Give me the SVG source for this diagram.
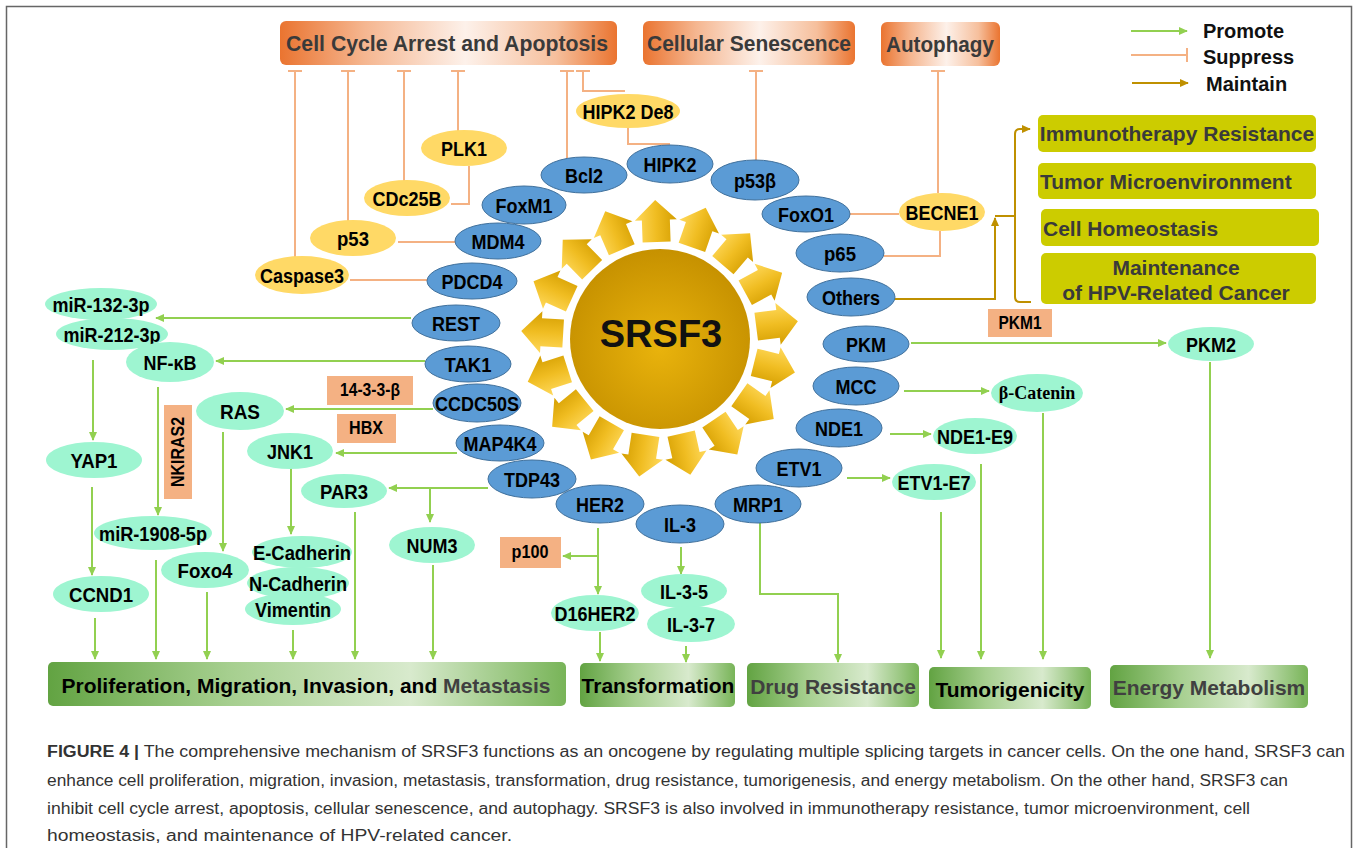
<svg xmlns="http://www.w3.org/2000/svg" xmlns:xlink="http://www.w3.org/1999/xlink" width="1358" height="848" viewBox="0 0 1358 848">
<style>
.blue{fill:#5b9bd5;stroke:#41719c;stroke-width:1}
.yel{fill:#ffd966}
.mint{fill:#9ef5d1}
.salmon{fill:#f4b183}
.yg{fill:#cccc00}
.lbl{font-family:"Liberation Sans",Arial,sans-serif;font-weight:700;font-size:21px;text-anchor:middle;dominant-baseline:central;fill:#000}
.sl{font-size:18px}
.box{font-family:"Liberation Sans",Arial,sans-serif;font-weight:700;font-size:21px;dominant-baseline:central;fill:#3a3a3a}
.ttl{font-family:"Liberation Sans",Arial,sans-serif;font-weight:700;font-size:22px;text-anchor:middle;dominant-baseline:central;fill:#3a3a3a}
.leg{font-family:"Liberation Sans",Arial,sans-serif;font-weight:700;font-size:20px;dominant-baseline:central;fill:#111}
.cap{font-family:"Liberation Sans",Arial,sans-serif;font-size:16px;fill:#333}
.pro{stroke:#92d050;stroke-width:2;fill:none;marker-end:url(#ag)}
.sup{stroke:#f4b183;stroke-width:2;fill:none}
.supT{marker-start:url(#tb)}
.mnt{stroke:#bf9000;stroke-width:2;fill:none}
</style>
<defs>
<marker id="ag" viewBox="0 0 10 10" refX="9" refY="5" markerWidth="9" markerHeight="9" orient="auto" markerUnits="userSpaceOnUse"><path d="M0,0.5 L10,5 L0,9.5 Z" fill="#92d050"/></marker>
<marker id="am" viewBox="0 0 10 10" refX="9" refY="5" markerWidth="9" markerHeight="9" orient="auto" markerUnits="userSpaceOnUse"><path d="M0,0.5 L10,5 L0,9.5 Z" fill="#bf9000"/></marker>
<marker id="tb" viewBox="-8 -8 16 16" refX="0" refY="0" markerWidth="16" markerHeight="16" orient="auto" markerUnits="userSpaceOnUse"><path d="M0,-7 V7" stroke="#f4b183" stroke-width="2"/></marker>
<marker id="tbe" viewBox="-8 -8 16 16" refX="0" refY="0" markerWidth="16" markerHeight="16" orient="auto" markerUnits="userSpaceOnUse"><path d="M0,-7 V7" stroke="#f4b183" stroke-width="2"/></marker>
<linearGradient id="gOr" x1="0" y1="0" x2="1" y2="0"><stop offset="0" stop-color="#ea7430"/><stop offset="0.25" stop-color="#f5b690"/><stop offset="0.55" stop-color="#fdf1ea"/><stop offset="0.82" stop-color="#f6bf9c"/><stop offset="1" stop-color="#ea7430"/></linearGradient>
<linearGradient id="gGr" x1="0" y1="0" x2="1" y2="0"><stop offset="0" stop-color="#62a342"/><stop offset="0.35" stop-color="#a6cf8f"/><stop offset="0.7" stop-color="#d8eacd"/><stop offset="1" stop-color="#78b458"/></linearGradient>
<radialGradient id="gSun" cx="0.5" cy="0.55" r="0.55"><stop offset="0" stop-color="#e9b30c"/><stop offset="1" stop-color="#c69100"/></radialGradient>
<linearGradient id="gA" x1="0" y1="0" x2="1" y2="0"><stop offset="0" stop-color="#ffd95c"/><stop offset="0.5" stop-color="#f0bd22"/><stop offset="1" stop-color="#d49e00"/></linearGradient>
<path id="sa" d="M-14,-97 L-14,-119 L-21,-119 L0,-139 L21,-119 L14,-119 L14,-97 Z"/>
</defs>
<rect x="0" y="0" width="1358" height="848" fill="#fff"/>
<rect x="6.5" y="6.5" width="1345" height="846" fill="none" stroke="#666" stroke-width="1.5"/>

<g id="legend">
<line x1="1131" y1="31" x2="1187" y2="31" class="pro"/>
<text class="leg" x="1203" y="31">Promote</text>
<line x1="1131" y1="55" x2="1187" y2="55" class="sup" marker-end="url(#tbe)"/>
<text class="leg" x="1203" y="57">Suppress</text>
<line x1="1132" y1="83" x2="1188" y2="83" class="mnt" marker-end="url(#am)"/>
<text class="leg" x="1206" y="84">Maintain</text>
</g>

<g id="connectors">
<line class="sup supT" x1="295" y1="71" x2="295" y2="257"/>
<line class="sup supT" x1="348" y1="71" x2="348" y2="221"/>
<line class="sup supT" x1="404" y1="71" x2="404" y2="181"/>
<line class="sup supT" x1="458" y1="71" x2="458" y2="131"/>
<line class="sup supT" x1="567" y1="71" x2="567" y2="159"/>
<polyline class="sup supT" points="583,71 583,91 625,91"/>
<polyline class="sup" points="628,128 628,144 670,144"/>
<polyline class="sup" points="469,166 469,204 451,204"/>
<line class="sup" x1="398" y1="242" x2="455" y2="242"/>
<line class="sup" x1="350" y1="280" x2="427" y2="280"/>
<line class="sup supT" x1="756" y1="71" x2="756" y2="160"/>
<line class="sup supT" x1="938" y1="71" x2="938" y2="193"/>
<line class="sup" x1="850" y1="214" x2="899" y2="214"/>
<polyline class="sup" points="884,256 940,256 940,231"/>
<polyline class="mnt" points="895,299 995,299 995,218" marker-end="url(#am)"/>
<path class="mnt" d="M1031,302 L1020,302 Q1015,302 1015,297 L1015,134 Q1015,129 1020,129 L1030,129" marker-end="url(#am)"/>
<line class="mnt" x1="995" y1="216" x2="1015" y2="216"/>
<line class="pro" x1="411" y1="318" x2="156" y2="318"/>
<line class="pro" x1="425" y1="361" x2="216" y2="361"/>
<line class="pro" x1="433" y1="409" x2="286" y2="409"/>
<line class="pro" x1="457" y1="453" x2="336" y2="453"/>
<line class="pro" x1="488" y1="488" x2="389" y2="488"/>
<line class="pro" x1="430" y1="488" x2="430" y2="522"/>
<line class="pro" x1="93" y1="360" x2="93" y2="440"/>
<line class="pro" x1="92" y1="487" x2="92" y2="575"/>
<line class="pro" x1="95" y1="618" x2="95" y2="659"/>
<line class="pro" x1="158" y1="387" x2="158" y2="515"/>
<line class="pro" x1="156" y1="560" x2="156" y2="659"/>
<line class="pro" x1="223" y1="432" x2="223" y2="551"/>
<line class="pro" x1="207" y1="592" x2="207" y2="659"/>
<line class="pro" x1="291" y1="468" x2="291" y2="534"/>
<line class="pro" x1="293" y1="630" x2="293" y2="659"/>
<line class="pro" x1="355" y1="512" x2="355" y2="659"/>
<line class="pro" x1="433" y1="565" x2="433" y2="659"/>
<line class="pro" x1="598" y1="528" x2="598" y2="594"/>
<line class="pro" x1="598" y1="556" x2="563" y2="556"/>
<line class="pro" x1="600" y1="632" x2="600" y2="661"/>
<line class="pro" x1="681" y1="547" x2="681" y2="574"/>
<line class="pro" x1="686" y1="646" x2="686" y2="662"/>
<polyline class="pro" points="760,523 760,594 838,594 838,662"/>
<line class="pro" x1="911" y1="343" x2="1166" y2="343"/>
<line class="pro" x1="904" y1="391" x2="989" y2="391"/>
<line class="pro" x1="890" y1="434" x2="931" y2="434"/>
<line class="pro" x1="847" y1="478" x2="890" y2="478"/>
<line class="pro" x1="941" y1="512" x2="941" y2="658"/>
<line class="pro" x1="981" y1="464" x2="981" y2="659"/>
<line class="pro" x1="1043" y1="413" x2="1043" y2="659"/>
<line class="pro" x1="1210" y1="362" x2="1210" y2="658"/>
</g>

<g id="top-boxes">
<g id="b-cca"><rect x="280" y="21" width="337" height="44" rx="6" fill="url(#gOr)"/><text class="ttl" x="447" y="43" textLength="322" lengthAdjust="spacingAndGlyphs">Cell Cycle Arrest and Apoptosis</text></g>
<g id="b-cs"><rect x="643" y="21" width="212" height="44" rx="6" fill="url(#gOr)"/><text class="ttl" x="749" y="43" textLength="204" lengthAdjust="spacingAndGlyphs">Cellular Senescence</text></g>
<g id="b-auto"><rect x="881" y="22" width="119" height="44" rx="6" fill="url(#gOr)"/><text class="ttl" x="940" y="44" textLength="108" lengthAdjust="spacingAndGlyphs">Autophagy</text></g>
</g>

<g id="srsf3">
<g fill="url(#gA)">
<use xlink:href="#sa" transform="translate(660,339) rotate(-2)"/>
<use xlink:href="#sa" transform="translate(660,339) rotate(19.2)"/>
<use xlink:href="#sa" transform="translate(660,339) rotate(40.4)"/>
<use xlink:href="#sa" transform="translate(660,339) rotate(61.5)"/>
<use xlink:href="#sa" transform="translate(660,339) rotate(82.7)"/>
<use xlink:href="#sa" transform="translate(660,339) rotate(103.9)"/>
<use xlink:href="#sa" transform="translate(660,339) rotate(125.1)"/>
<use xlink:href="#sa" transform="translate(660,339) rotate(146.2)"/>
<use xlink:href="#sa" transform="translate(660,339) rotate(167.4)"/>
<use xlink:href="#sa" transform="translate(660,339) rotate(188.6)"/>
<use xlink:href="#sa" transform="translate(660,339) rotate(209.8)"/>
<use xlink:href="#sa" transform="translate(660,339) rotate(230.9)"/>
<use xlink:href="#sa" transform="translate(660,339) rotate(252.1)"/>
<use xlink:href="#sa" transform="translate(660,339) rotate(273.3)"/>
<use xlink:href="#sa" transform="translate(660,339) rotate(294.5)"/>
<use xlink:href="#sa" transform="translate(660,339) rotate(315.6)"/>
<use xlink:href="#sa" transform="translate(660,339) rotate(336.8)"/>
</g>
<circle cx="660" cy="339" r="90" fill="url(#gSun)"/>
<text x="661" y="334" font-family="Liberation Sans, Arial, sans-serif" font-weight="700" font-size="38" text-anchor="middle" dominant-baseline="central" fill="#111">SRSF3</text>
</g>

<g id="yellow-nodes">
<g id="n-hipk2de8"><ellipse class="yel" cx="628" cy="111" rx="52" ry="17"/><text class="lbl" x="628" y="111" textLength="91" lengthAdjust="spacingAndGlyphs">HIPK2 De8</text></g>
<g id="n-plk1"><ellipse class="yel" cx="464" cy="148" rx="43" ry="18"/><text class="lbl" x="464" y="148" textLength="46" lengthAdjust="spacingAndGlyphs">PLK1</text></g>
<g id="n-cdc25b"><ellipse class="yel" cx="407" cy="198" rx="43" ry="18"/><text class="lbl" x="407" y="198" textLength="69" lengthAdjust="spacingAndGlyphs">CDc25B</text></g>
<g id="n-p53"><ellipse class="yel" cx="353" cy="238" rx="43" ry="18"/><text class="lbl" x="353" y="238" textLength="32" lengthAdjust="spacingAndGlyphs">p53</text></g>
<g id="n-caspase3"><ellipse class="yel" cx="302" cy="275" rx="47" ry="19"/><text class="lbl" x="302" y="275" textLength="84" lengthAdjust="spacingAndGlyphs">Caspase3</text></g>
<g id="n-becne1"><ellipse class="yel" cx="942" cy="212" rx="43" ry="19"/><text class="lbl" x="942" y="212" textLength="73" lengthAdjust="spacingAndGlyphs">BECNE1</text></g>
</g>

<g id="blue-nodes">
<g id="n-bcl2"><ellipse class="blue" cx="584" cy="175" rx="43" ry="18"/><text class="lbl" x="584" y="175" textLength="38" lengthAdjust="spacingAndGlyphs">Bcl2</text></g>
<g id="n-hipk2"><ellipse class="blue" cx="670" cy="164" rx="43" ry="19"/><text class="lbl" x="670" y="164" textLength="53" lengthAdjust="spacingAndGlyphs">HIPK2</text></g>
<g id="n-p53b"><ellipse class="blue" cx="755" cy="180" rx="44" ry="20"/><text class="lbl" x="755" y="180" textLength="42" lengthAdjust="spacingAndGlyphs">p53β</text></g>
<g id="n-foxm1"><ellipse class="blue" cx="524" cy="205" rx="42" ry="19"/><text class="lbl" x="524" y="205" textLength="57" lengthAdjust="spacingAndGlyphs">FoxM1</text></g>
<g id="n-mdm4"><ellipse class="blue" cx="498" cy="241" rx="43" ry="18"/><text class="lbl" x="498" y="241" textLength="53" lengthAdjust="spacingAndGlyphs">MDM4</text></g>
<g id="n-pdcd4"><ellipse class="blue" cx="472" cy="281" rx="45" ry="18"/><text class="lbl" x="472" y="281" textLength="61" lengthAdjust="spacingAndGlyphs">PDCD4</text></g>
<g id="n-rest"><ellipse class="blue" cx="456" cy="323" rx="44" ry="18"/><text class="lbl" x="456" y="323" textLength="48" lengthAdjust="spacingAndGlyphs">REST</text></g>
<g id="n-tak1"><ellipse class="blue" cx="468" cy="364" rx="43" ry="18"/><text class="lbl" x="468" y="364" textLength="47" lengthAdjust="spacingAndGlyphs">TAK1</text></g>
<g id="n-ccdc50s"><ellipse class="blue" cx="477" cy="403" rx="44" ry="19"/><text class="lbl" x="477" y="403" textLength="84" lengthAdjust="spacingAndGlyphs">CCDC50S</text></g>
<g id="n-map4k4"><ellipse class="blue" cx="500" cy="443" rx="44" ry="18"/><text class="lbl" x="500" y="443" textLength="73" lengthAdjust="spacingAndGlyphs">MAP4K4</text></g>
<g id="n-tdp43"><ellipse class="blue" cx="532" cy="479" rx="44" ry="19"/><text class="lbl" x="532" y="479" textLength="56" lengthAdjust="spacingAndGlyphs">TDP43</text></g>
<g id="n-her2"><ellipse class="blue" cx="600" cy="504" rx="44" ry="19"/><text class="lbl" x="600" y="504" textLength="48" lengthAdjust="spacingAndGlyphs">HER2</text></g>
<g id="n-il3"><ellipse class="blue" cx="680" cy="524" rx="44" ry="19"/><text class="lbl" x="680" y="524" textLength="32" lengthAdjust="spacingAndGlyphs">IL-3</text></g>
<g id="n-mrp1"><ellipse class="blue" cx="758" cy="504" rx="43" ry="19"/><text class="lbl" x="758" y="504" textLength="50" lengthAdjust="spacingAndGlyphs">MRP1</text></g>
<g id="n-etv1"><ellipse class="blue" cx="799" cy="468" rx="43" ry="19"/><text class="lbl" x="799" y="468" textLength="45" lengthAdjust="spacingAndGlyphs">ETV1</text></g>
<g id="n-nde1"><ellipse class="blue" cx="839" cy="428" rx="43" ry="19"/><text class="lbl" x="839" y="428" textLength="48" lengthAdjust="spacingAndGlyphs">NDE1</text></g>
<g id="n-mcc"><ellipse class="blue" cx="856" cy="386" rx="43" ry="19"/><text class="lbl" x="856" y="386" textLength="41" lengthAdjust="spacingAndGlyphs">MCC</text></g>
<g id="n-pkm"><ellipse class="blue" cx="866" cy="344" rx="43" ry="18"/><text class="lbl" x="866" y="344" textLength="40" lengthAdjust="spacingAndGlyphs">PKM</text></g>
<g id="n-others"><ellipse class="blue" cx="851" cy="297" rx="44" ry="19"/><text class="lbl" x="851" y="297" textLength="58" lengthAdjust="spacingAndGlyphs">Others</text></g>
<g id="n-p65"><ellipse class="blue" cx="840" cy="253" rx="44" ry="19"/><text class="lbl" x="840" y="253" textLength="32" lengthAdjust="spacingAndGlyphs">p65</text></g>
<g id="n-foxo1"><ellipse class="blue" cx="806" cy="214" rx="44" ry="18"/><text class="lbl" x="806" y="214" textLength="56" lengthAdjust="spacingAndGlyphs">FoxO1</text></g>
</g>

<g id="mint-nodes">
<g id="n-mir132"><ellipse class="mint" cx="101" cy="304" rx="56" ry="16"/><text class="lbl" x="101" y="304" textLength="97" lengthAdjust="spacingAndGlyphs">miR-132-3p</text></g>
<g id="n-mir212"><ellipse class="mint" cx="112" cy="334" rx="56" ry="16"/><text class="lbl" x="112" y="334" textLength="97" lengthAdjust="spacingAndGlyphs">miR-212-3p</text></g>
<g id="n-nfkb"><ellipse class="mint" cx="170" cy="362" rx="44" ry="20"/><text class="lbl" x="170" y="362" textLength="53" lengthAdjust="spacingAndGlyphs">NF-κB</text></g>
<g id="n-ras"><ellipse class="mint" cx="240" cy="411" rx="44" ry="19"/><text class="lbl" x="240" y="411" textLength="40" lengthAdjust="spacingAndGlyphs">RAS</text></g>
<g id="n-jnk1"><ellipse class="mint" cx="290" cy="451" rx="43" ry="18"/><text class="lbl" x="290" y="451" textLength="46" lengthAdjust="spacingAndGlyphs">JNK1</text></g>
<g id="n-yap1"><ellipse class="mint" cx="94" cy="460" rx="48" ry="18"/><text class="lbl" x="94" y="460" textLength="47" lengthAdjust="spacingAndGlyphs">YAP1</text></g>
<g id="n-par3"><ellipse class="mint" cx="344" cy="491" rx="43" ry="17"/><text class="lbl" x="344" y="491" textLength="48" lengthAdjust="spacingAndGlyphs">PAR3</text></g>
<g id="n-mir1908"><ellipse class="mint" cx="153" cy="533" rx="59" ry="17"/><text class="lbl" x="153" y="533" textLength="108" lengthAdjust="spacingAndGlyphs">miR-1908-5p</text></g>
<g id="n-num3"><ellipse class="mint" cx="432" cy="545" rx="43" ry="18"/><text class="lbl" x="432" y="545" textLength="51" lengthAdjust="spacingAndGlyphs">NUM3</text></g>
<g id="n-ecad"><ellipse class="mint" cx="302" cy="552" rx="50" ry="16"/><text class="lbl" x="302" y="552" textLength="98" lengthAdjust="spacingAndGlyphs">E-Cadherin</text></g>
<g id="n-foxo4"><ellipse class="mint" cx="205" cy="570" rx="44" ry="18"/><text class="lbl" x="205" y="570" textLength="55" lengthAdjust="spacingAndGlyphs">Foxo4</text></g>
<g id="n-ncad"><ellipse class="mint" cx="298" cy="583" rx="51" ry="16"/><text class="lbl" x="298" y="583" textLength="98" lengthAdjust="spacingAndGlyphs">N-Cadherin</text></g>
<g id="n-vim"><ellipse class="mint" cx="293" cy="609" rx="48" ry="16"/><text class="lbl" x="293" y="609" textLength="76" lengthAdjust="spacingAndGlyphs">Vimentin</text></g>
<g id="n-ccnd1"><ellipse class="mint" cx="101" cy="594" rx="48" ry="18"/><text class="lbl" x="101" y="594" textLength="64" lengthAdjust="spacingAndGlyphs">CCND1</text></g>
<g id="n-d16her2"><ellipse class="mint" cx="595" cy="613" rx="44" ry="18"/><text class="lbl" x="595" y="613" textLength="81" lengthAdjust="spacingAndGlyphs">D16HER2</text></g>
<g id="n-il35"><ellipse class="mint" cx="684" cy="591" rx="43" ry="17"/><text class="lbl" x="684" y="591" textLength="48" lengthAdjust="spacingAndGlyphs">IL-3-5</text></g>
<g id="n-il37"><ellipse class="mint" cx="691" cy="624" rx="44" ry="18"/><text class="lbl" x="691" y="624" textLength="48" lengthAdjust="spacingAndGlyphs">IL-3-7</text></g>
<g id="n-pkm2"><ellipse class="mint" cx="1211" cy="344" rx="43" ry="17"/><text class="lbl" x="1211" y="344" textLength="50" lengthAdjust="spacingAndGlyphs">PKM2</text></g>
<g id="n-bcat"><ellipse class="mint" cx="1037" cy="393" rx="46" ry="19"/><text x="1037" y="393" font-family="Liberation Serif, Times New Roman, serif" font-weight="700" font-size="18" text-anchor="middle" dominant-baseline="central">β-Catenin</text></g>
<g id="n-nde1e9"><ellipse class="mint" cx="975" cy="436" rx="42" ry="18"/><text class="lbl" x="975" y="436" textLength="76" lengthAdjust="spacingAndGlyphs">NDE1-E9</text></g>
<g id="n-etv1e7"><ellipse class="mint" cx="934" cy="482" rx="42" ry="18"/><text class="lbl" x="934" y="482" textLength="73" lengthAdjust="spacingAndGlyphs">ETV1-E7</text></g>
</g>

<g id="salmon-labels">
<g id="n-1433b"><rect class="salmon" x="327" y="376" width="86" height="29"/><text class="lbl sl" x="370" y="390" textLength="60" lengthAdjust="spacingAndGlyphs">14-3-3-β</text></g>
<g id="n-hbx"><rect class="salmon" x="337" y="414" width="59" height="29"/><text class="lbl sl" x="366" y="428" textLength="34" lengthAdjust="spacingAndGlyphs">HBX</text></g>
<g id="n-nkiras2"><rect class="salmon" x="164" y="405" width="28" height="94"/><text class="lbl sl" transform="translate(178,452) rotate(-90)" textLength="70" lengthAdjust="spacingAndGlyphs">NKIRAS2</text></g>
<g id="n-p100"><rect class="salmon" x="500" y="537" width="61" height="31"/><text class="lbl sl" x="530" y="552" textLength="37" lengthAdjust="spacingAndGlyphs">p100</text></g>
<g id="n-pkm1"><rect class="salmon" x="988" y="309" width="64" height="28"/><text class="lbl sl" x="1020" y="323" textLength="43" lengthAdjust="spacingAndGlyphs">PKM1</text></g>
</g>

<g id="right-boxes">
<g id="b-ir"><rect class="yg" x="1038" y="115" width="278" height="37" rx="5"/><text class="box" x="1177" y="133" text-anchor="middle">Immunotherapy Resistance</text></g>
<g id="b-tm"><rect class="yg" x="1038" y="163" width="278" height="36" rx="5"/><text class="box" x="1040" y="181">Tumor Microenvironment</text></g>
<g id="b-ch"><rect class="yg" x="1041" y="209" width="278" height="37" rx="5"/><text class="box" x="1043" y="228">Cell Homeostasis</text></g>
<g id="b-hpv"><rect class="yg" x="1041" y="253" width="275" height="51" rx="5"/><text class="box" x="1176" y="267" text-anchor="middle">Maintenance</text><text class="box" x="1176" y="292" text-anchor="middle">of HPV-Related Cancer</text></g>
</g>

<g id="bottom-boxes">
<g id="b-pmim"><rect x="48" y="662" width="518" height="44" rx="5" fill="url(#gGr)"/><text class="box" x="306" y="685" text-anchor="middle" style="fill:#000">Proliferation, Migration, Invasion, and <tspan fill="#404040">Metastasis</tspan></text></g>
<g id="b-trans"><rect x="580" y="663" width="155" height="44" rx="5" fill="url(#gGr)"/><text class="box" x="658" y="685" text-anchor="middle" style="fill:#000">Transformation</text></g>
<g id="b-drug"><rect x="747" y="663" width="172" height="44" rx="5" fill="url(#gGr)"/><text class="box" x="833" y="686" text-anchor="middle" style="fill:#404040">Drug Resistance</text></g>
<g id="b-tumor"><rect x="929" y="667" width="162" height="42" rx="5" fill="url(#gGr)"/><text class="box" x="1010" y="689" text-anchor="middle" style="fill:#000">Tumorigenicity</text></g>
<g id="b-energy"><rect x="1110" y="665" width="198" height="43" rx="5" fill="url(#gGr)"/><text class="box" x="1209" y="687" text-anchor="middle" style="fill:#404040">Energy Metabolism</text></g>
</g>

<g id="caption">
<text class="cap" x="47" y="757" textLength="1298" lengthAdjust="spacingAndGlyphs"><tspan font-weight="700">FIGURE 4 |</tspan> The comprehensive mechanism of SRSF3 functions as an oncogene by regulating multiple splicing targets in cancer cells. On the one hand, SRSF3 can</text>
<text class="cap" x="47" y="786" textLength="1241" lengthAdjust="spacingAndGlyphs">enhance cell proliferation, migration, invasion, metastasis, transformation, drug resistance, tumorigenesis, and energy metabolism. On the other hand, SRSF3 can</text>
<text class="cap" x="47" y="814" textLength="1203" lengthAdjust="spacingAndGlyphs">inhibit cell cycle arrest, apoptosis, cellular senescence, and autophagy. SRSF3 is also involved in immunotherapy resistance, tumor microenvironment, cell</text>
<text class="cap" x="47" y="841" textLength="465" lengthAdjust="spacingAndGlyphs">homeostasis, and maintenance of HPV-related cancer.</text>
</g>
</svg>
